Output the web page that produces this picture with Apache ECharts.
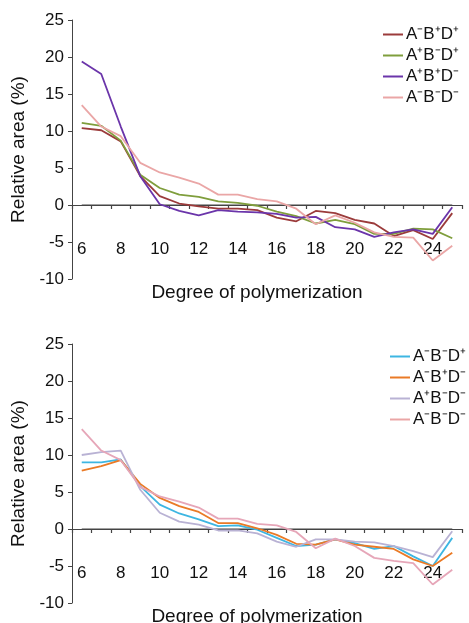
<!DOCTYPE html>
<html>
<head>
<meta charset="utf-8">
<script src="https://cdn.jsdelivr.net/npm/echarts@6/dist/echarts.min.js"></script>
<style>
  html, body { margin: 0; padding: 0; background: #fff; }
  #chart { width: 469px; height: 623px; }
</style>
</head>
<body>
<div id="chart"></div>
<script>
// degree of polymerization, DP6 - DP25
const dp = ['6', '7', '8', '9', '10', '11', '12', '13', '14', '15', '16', '17', '18', '19', '20', '21', '22', '23', '24', '25']

// top panel
const topNames = ['A⁻B⁺D⁺', 'A⁺B⁻D⁺', 'A⁺B⁺D⁻', 'A⁻B⁻D⁻']
const aMbPdP = [10.4, 10.1, 8.6, 3.9, 1.2, 0.2, -0.2, -0.5, -0.5, -0.7, -1.7, -2.2, -0.8, -1.1, -2.0, -2.5, -4.2, -3.4, -4.6, -1.1]
const aPbMdP = [11.1, 10.7, 8.7, 4.1, 2.3, 1.4, 1.1, 0.5, 0.3, -0.1, -0.9, -1.5, -2.5, -2.0, -2.6, -3.9, -3.9, -3.2, -3.3, -4.5]
const aPbPdM = [19.4, 17.7, 10.6, 3.9, 0.1, -0.8, -1.4, -0.7, -0.9, -1.0, -1.2, -1.7, -1.6, -3.0, -3.3, -4.3, -3.7, -3.3, -3.9, -0.3]
const aMbMdM = [13.5, 10.6, 9.3, 5.7, 4.4, 3.7, 2.9, 1.4, 1.4, 0.8, 0.5, -0.5, -2.6, -1.4, -2.4, -3.7, -4.3, -4.4, -7.5, -5.5]

// bottom panel
const bottomNames = ['A⁻B⁻D⁺', 'A⁻B⁺D⁻', 'A⁺B⁻D⁻', 'A⁻B⁻D⁻']
const aMbMdP = [9.0, 9.0, 9.4, 5.8, 3.3, 2.1, 1.3, 0.4, 0.5, -0.1, -1.2, -2.3, -2.1, -1.4, -1.9, -2.7, -2.3, -3.7, -5.0, -1.2]
const aMbPdM = [7.9, 8.5, 9.3, 6.1, 4.2, 3.1, 2.3, 0.8, 0.8, 0.1, -0.8, -2.0, -2.1, -1.4, -2.1, -2.4, -2.7, -4.1, -5.0, -3.2]
const aPbMdM = [10.0, 10.4, 10.6, 5.3, 2.2, 1.0, 0.6, -0.2, -0.2, -0.6, -1.7, -2.4, -1.4, -1.4, -1.7, -1.8, -2.3, -3.0, -3.8, -0.3]
const aMbMdM2 = [13.5, 10.6, 9.3, 5.7, 4.4, 3.7, 2.9, 1.4, 1.4, 0.7, 0.5, -0.4, -2.6, -1.3, -2.3, -3.9, -4.3, -4.6, -7.5, -5.5]

// zero reference line
const zeroBase = [0, 0, 0, 0, 0, 0, 0, 0, 0, 0, 0, 0, 0, 0, 0, 0, 0, 0, 0, 0]

const topColors = ['#9b3b3b', '#7f9e3c', '#6b35aa', '#eaa6a6']
const bottomColors = ['#3db6e2', '#ea7a26', '#b9b2d4', '#e6a6b8']

const font = 'Liberation Sans, Arial, sans-serif'
const axisColor = '#444'
const plotHeight = 259

// the category axis sits on y = 0, i.e. 10 of the 35 units above the grid bottom
const makeX = (gridIndex) => ({
  type: 'category',
  gridIndex,
  data: dp,
  boundaryGap: true,
  offset: -plotHeight * 10 / 35,
  name: 'Degree of polymerization',
  nameLocation: 'middle',
  nameGap: 78,
  nameTextStyle: { fontSize: 19, color: '#111', fontFamily: font, padding: [0, 20, 0, 0] },
  axisLine: { show: true, onZero: false, lineStyle: { color: axisColor, width: 1.2 } },
  axisTick: { show: true, interval: 0, length: 4, lineStyle: { color: axisColor, width: 1.2 } },
  axisLabel: { interval: 1, margin: 36, fontSize: 17, color: '#111', fontFamily: font },
  splitLine: { show: false }
})

const makeY = (gridIndex) => ({
  type: 'value',
  gridIndex,
  min: -10,
  max: 25,
  interval: 5,
  name: 'Relative area (%)',
  nameLocation: 'middle',
  nameGap: 40,
  nameTextStyle: { fontSize: 19, color: '#111', fontFamily: font },
  axisLine: { show: true, onZero: false, lineStyle: { color: axisColor, width: 1 } },
  axisTick: { show: true, length: 4, lineStyle: { color: axisColor } },
  axisLabel: { margin: 8, fontSize: 17, color: '#111', fontFamily: font },
  splitLine: { show: false }
})

const makeSeries = (name, data, color, idx) => ({
  name,
  type: 'line',
  xAxisIndex: idx,
  yAxisIndex: idx,
  data,
  symbol: 'none',
  smooth: false,
  lineStyle: { color, width: 1.8 },
  itemStyle: { color }
})

const makeBase = (idx) => ({
  name: 'zero' + idx,
  type: 'line',
  xAxisIndex: idx,
  yAxisIndex: idx,
  data: zeroBase,
  symbol: 'none',
  silent: true,
  z: 1,
  lineStyle: { color: axisColor, width: 1.2 }
})

const makeLegend = (names, top, left) => ({
  data: names,
  orient: 'vertical',
  left,
  top,
  icon: 'rect',
  itemWidth: 20,
  itemHeight: 2,
  itemGap: 4,
  padding: 0,
  selectedMode: false,
  textStyle: { fontSize: 17, color: '#111', fontFamily: font, padding: [0, 0, 0, -2] }
})

const chart = echarts.init(document.getElementById('chart'), null, { renderer: 'canvas' })

chart.setOption({
  animation: false,
  backgroundColor: '#fff',
  grid: [
    { left: 72, top: 20, width: 390, height: plotHeight, outerBoundsMode: 'none' },
    { left: 72, top: 344, width: 390, height: plotHeight, outerBoundsMode: 'none' }
  ],
  xAxis: [makeX(0), makeX(1)],
  yAxis: [makeY(0), makeY(1)],
  legend: [makeLegend(topNames, 26, 383), makeLegend(bottomNames, 348, 390)],
  series: [
    makeBase(0),
    makeSeries(topNames[0], aMbPdP, topColors[0], 0),
    makeSeries(topNames[1], aPbMdP, topColors[1], 0),
    makeSeries(topNames[2], aPbPdM, topColors[2], 0),
    makeSeries(topNames[3], aMbMdM, topColors[3], 0),
    makeBase(1),
    makeSeries(bottomNames[0], aMbMdP, bottomColors[0], 1),
    makeSeries(bottomNames[1], aMbPdM, bottomColors[1], 1),
    makeSeries(bottomNames[2], aPbMdM, bottomColors[2], 1),
    makeSeries(bottomNames[3] + ' ', aMbMdM2, bottomColors[3], 1)
  ]
})
</script>
</body>
</html>
